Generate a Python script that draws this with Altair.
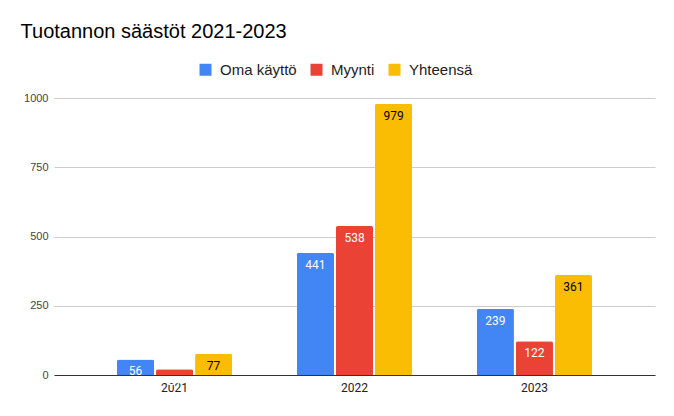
import pandas as pd
import altair as alt

years = ['2021', '2022', '2023']
series = ['Oma käyttö', 'Myynti', 'Yhteensä']
oma_kaytto = [56, 441, 239]
myynti = [21, 538, 122]
yhteensa = [77, 979, 361]
colors = ['#4285F4', '#EA4335', '#FBBC04']
y_ticks = [0, 250, 500, 750, 1000]

rows = []
for name, vals in zip(series, [oma_kaytto, myynti, yhteensa]):
    for yr, v in zip(years, vals):
        rows.append({'Vuosi': yr, 'Sarja': name, 'Arvo': v})
df = pd.DataFrame(rows)

x = alt.X('Vuosi:N', scale=alt.Scale(paddingInner=0.36, paddingOuter=0.35),
          axis=alt.Axis(title=None, labelAngle=0, ticks=False, domainColor='#333333',
                        labelFont='Roboto', labelFontSize=12, labelColor='#222222',
                        labelPadding=7))
xo = alt.XOffset('Sarja:N', sort=series, scale=alt.Scale(paddingInner=0.05))
y = alt.Y('Arvo:Q', scale=alt.Scale(domain=[0, 1000]),
          axis=alt.Axis(title=None, values=y_ticks, format='d', ticks=False, domain=False,
                        gridColor='#cccccc', labelFont='Liberation Sans', labelFontSize=11,
                        labelColor='#444444', labelPadding=6))

bars = alt.Chart(df).mark_bar(cornerRadiusTopLeft=2, cornerRadiusTopRight=2).encode(
    x=x, xOffset=xo, y=y,
    color=alt.Color('Sarja:N', sort=series, scale=alt.Scale(domain=series, range=colors),
                    legend=alt.Legend(title=None, orient='none', legendX=144, legendY=-36,
                                      direction='horizontal', symbolType='square',
                                      symbolSize=144, symbolStrokeWidth=0,
                                      labelFont='Liberation Sans', labelFontSize=15,
                                      labelColor='#222222', columnPadding=12,
                                      labelOffset=7, padding=0))
)

labels = alt.Chart(df).mark_text(baseline='middle', dy=12, font='Roboto', fontSize=12).encode(
    x=x, xOffset=xo, y=y,
    text='Arvo:Q',
    color=alt.condition(alt.datum.Sarja == 'Yhteensä', alt.value('#000000'), alt.value('#ffffff'))
)

chart = (bars + labels).properties(
    width=601, height=277,
    title=alt.TitleParams('Tuotannon säästöt 2021-2023', anchor='start', dx=-3, dy=-16,
                          font='Liberation Sans', fontSize=20, fontWeight='normal',
                          color='#000000'),
    padding={'left': 46, 'top': 90, 'right': 10, 'bottom': 30},
    autosize=alt.AutoSizeParams(type='none')
).configure_view(stroke=None)

chart.save("out.html", embed_options={"renderer": "svg", "actions": False})
